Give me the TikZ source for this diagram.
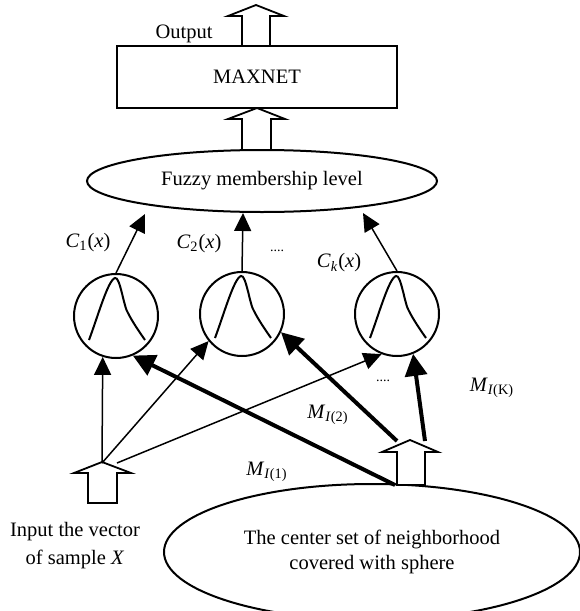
\documentclass[tikz,border=0pt]{standalone}
\usepackage{fontspec}
\setmainfont{Liberation Serif}
\usetikzlibrary{arrows.meta,positioning,shapes.geometric}

\tikzset{
  thinarr/.style={line width=0.75pt,-{Triangle[length=9pt,width=8.5pt]}},
  thickarr/.style={line width=2pt,-{Triangle[length=11pt,width=11pt]}},
  blockarr/.style={line width=0.9pt,fill=white,line join=miter},
  unit/.style={draw,circle,line width=1pt,minimum size=42pt,inner sep=0pt},
}

\begin{document}
\begin{tikzpicture}[x=0.5pt,y=-0.5pt,font=\fontsize{10.25}{13}\selectfont]
  \useasboundingbox (0,0) rectangle (579,611);
  % output side
  \draw[blockarr] (256,5) -- (284,16) -- (270,16) -- (270,46) -- (242,46) -- (242,16) -- (228,16) -- cycle;
  \node[draw,line width=1pt,minimum width=140pt,minimum height=31pt] (maxnet) at (257,77) {MAXNET};
  \node (out) at (184,34) {Output};
  \draw[blockarr] (257,108) -- (285,119) -- (271,119) -- (271,150) -- (242,150) -- (242,119) -- (228,119) -- cycle;
  \node[draw,ellipse,line width=1pt,minimum width=175pt,minimum height=31pt,inner sep=0pt] (fuzzy) at (262,181) {Fuzzy membership level};
  % membership units
  \node[unit] (c1) at (116,316) {};
  \node[unit] (c2) at (242,314) {};
  \node[unit] (c3) at (397,314) {};
  \foreach \c in {c1,c2,c3}
    \draw[line width=1pt,shift={(\c)}] (-27,24) .. controls (-18,0) and (-8,-36) .. (-1,-38) .. controls (4,-40) and (8,-8) .. (12,-3) .. controls (16,5) and (22,14) .. (29,24);
  \coordinate (f1) at (145,214);
  \coordinate (f2) at (243,213);
  \coordinate (fk) at (363,213);
  \draw[thinarr] (c1.north) -- (f1);
  \draw[thinarr] (c2.north) -- (f2);
  \draw[thinarr] (c3.north) -- (fk);
  \node (lc1) at (88,243) {\textit{C}\textsubscript{1}(\textit{x})};
  \node (lc2) at (199,244) {\textit{C}\textsubscript{2}(\textit{x})};
  \node (lck) at (339,263) {\textit{C}\textsubscript{\textit{k}}(\textit{x})};
  \node[font=\fontsize{7}{8}\selectfont] (dots1) at (277,251) {....};
  % inputs
  \draw[blockarr] (102,462) -- (131,473) -- (117,473) -- (117,503) -- (88,503) -- (88,473) -- (74,473) -- cycle;
  \node[align=center,font=\fontsize{10.25}{14}\selectfont] (input) at (75,546) {Input the vector\\of sample \textit{X}};
  \node[draw,ellipse,line width=1pt,minimum width=208pt,minimum height=68pt,inner sep=0pt,align=center,font=\fontsize{10.25}{12.5}\selectfont] (set) at (372,552) {The center set of neighborhood\\covered with sphere};
  \draw[blockarr] (410,440) -- (438,452) -- (425,452) -- (425,485) -- (397,485) -- (397,452) -- (382,452) -- cycle;
  \coordinate (inTip) at (102,463);
  \coordinate (inR) at (117,463);
  \coordinate (sB) at (395,485);
  \coordinate (sL) at (397,441);
  \coordinate (sR) at (425,441);
  \draw[thinarr] (inTip) -- (c1.-108);
  \draw[thinarr] (inTip) -- (c2.-141);
  \draw[thinarr] (inR) -- (c3.-111);
  \draw[thickarr] (sB) -- (c1.-67);
  \draw[thickarr] (sL) -- (c2.-25);
  \draw[thickarr] (sR) -- (c3.-68);
  \node[font=\fontsize{7}{8}\selectfont] (dots2) at (383,381) {....};
  \node (lm1) at (267,472) {\textit{M}\textsubscript{\textit{I}(1)}};
  \node (lm2) at (328,415) {\textit{M}\textsubscript{\textit{I}(2)}};
  \node (lmk) at (492,388) {\textit{M}\textsubscript{\textit{I}(K)}};
\end{tikzpicture}
\end{document}
